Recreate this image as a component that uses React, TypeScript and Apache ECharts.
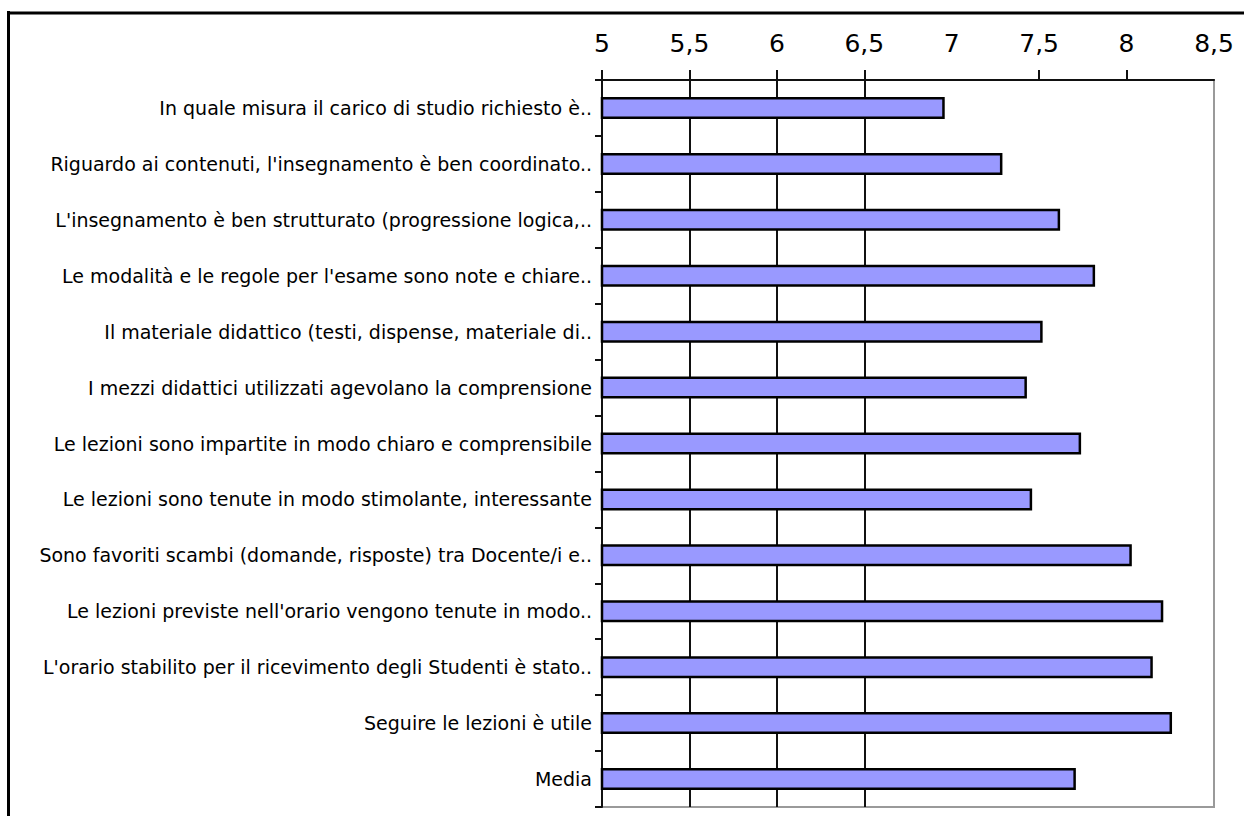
import React, { useEffect, useRef } from "react";
import * as echarts from "echarts";

const categories = [
  "In quale misura il carico di studio richiesto è..",
  "Riguardo ai contenuti, l'insegnamento è ben coordinato..",
  "L'insegnamento è ben strutturato (progressione logica,..",
  "Le modalità e le regole per l'esame sono note e chiare..",
  "Il materiale didattico (testi, dispense, materiale di..",
  "I mezzi didattici utilizzati agevolano la comprensione",
  "Le lezioni sono impartite in modo chiaro e comprensibile",
  "Le lezioni sono tenute in modo stimolante, interessante",
  "Sono favoriti scambi (domande, risposte) tra Docente/i e..",
  "Le lezioni previste nell'orario vengono tenute in modo..",
  "L'orario stabilito per il ricevimento degli Studenti è stato..",
  "Seguire le lezioni è utile",
  "Media",
];

const values = [6.96, 7.29, 7.62, 7.82, 7.52, 7.43, 7.74, 7.46, 8.03, 8.21, 8.15, 8.26, 7.71];

const tickValues = [5, 5.5, 6, 6.5, 7.5, 8];
const gridColors = ["#111", "#111", "#111", "transparent", "#111", "#111"];

export default function App() {
  const ref = useRef<HTMLDivElement>(null);
  useEffect(() => {
    if (!ref.current) return;
    const chart = echarts.init(ref.current, null, { renderer: "svg" });
    chart.setOption({
      animation: false,
      backgroundColor: "#ffffff",
      grid: {
        left: 602,
        top: 80,
        right: 30,
        bottom: 9,
        show: true,
        borderColor: "#9a9a9a",
        borderWidth: 2,
        backgroundColor: "transparent",
      },
      xAxis: {
        type: "value",
        position: "top",
        min: 5,
        max: 8.5,
        interval: 0.5,
        axisLine: { show: true, lineStyle: { color: "#111", width: 2 } },
        axisTick: {
          show: true,
          length: 10,
          customValues: tickValues,
          lineStyle: { color: "#111", width: 2 },
        },
        axisLabel: {
          margin: 24,
          color: "#000",
          fontFamily: "DejaVu Sans",
          fontSize: 25,
          formatter: (v: number) => String(v).replace(".", ","),
        },
        splitLine: {
          show: true,
          showMinLine: false,
          showMaxLine: false,
          lineStyle: { color: gridColors, width: 2 },
        },
      },
      yAxis: {
        type: "category",
        inverse: true,
        data: categories,
        axisLine: { show: true, lineStyle: { color: "#111", width: 2 } },
        axisTick: { show: true, length: 7, lineStyle: { color: "#111", width: 2 } },
        axisLabel: {
          margin: 10,
          color: "#000",
          fontFamily: "DejaVu Sans",
          fontSize: 19,
        },
        splitLine: { show: false },
      },
      series: [
        {
          type: "bar",
          data: values,
          barWidth: 22,
          itemStyle: { color: "#9999ff", borderColor: "#000", borderWidth: 2.5 },
        },
      ],
      graphic: [
        {
          type: "line",
          shape: { x1: 8.5, y1: 11, x2: 8.5, y2: 816 },
          style: { stroke: "#000", lineWidth: 3 },
        },
        {
          type: "line",
          shape: { x1: 7, y1: 13, x2: 1244, y2: 13 },
          style: { stroke: "#000", lineWidth: 3 },
        },
      ],
    });
    return () => chart.dispose();
  }, []);
  return (
    <div
      ref={ref}
      style={{ position: "fixed", left: 0, top: 0, width: 1244, height: 816, background: "#fff" }}
    />
  );
}
